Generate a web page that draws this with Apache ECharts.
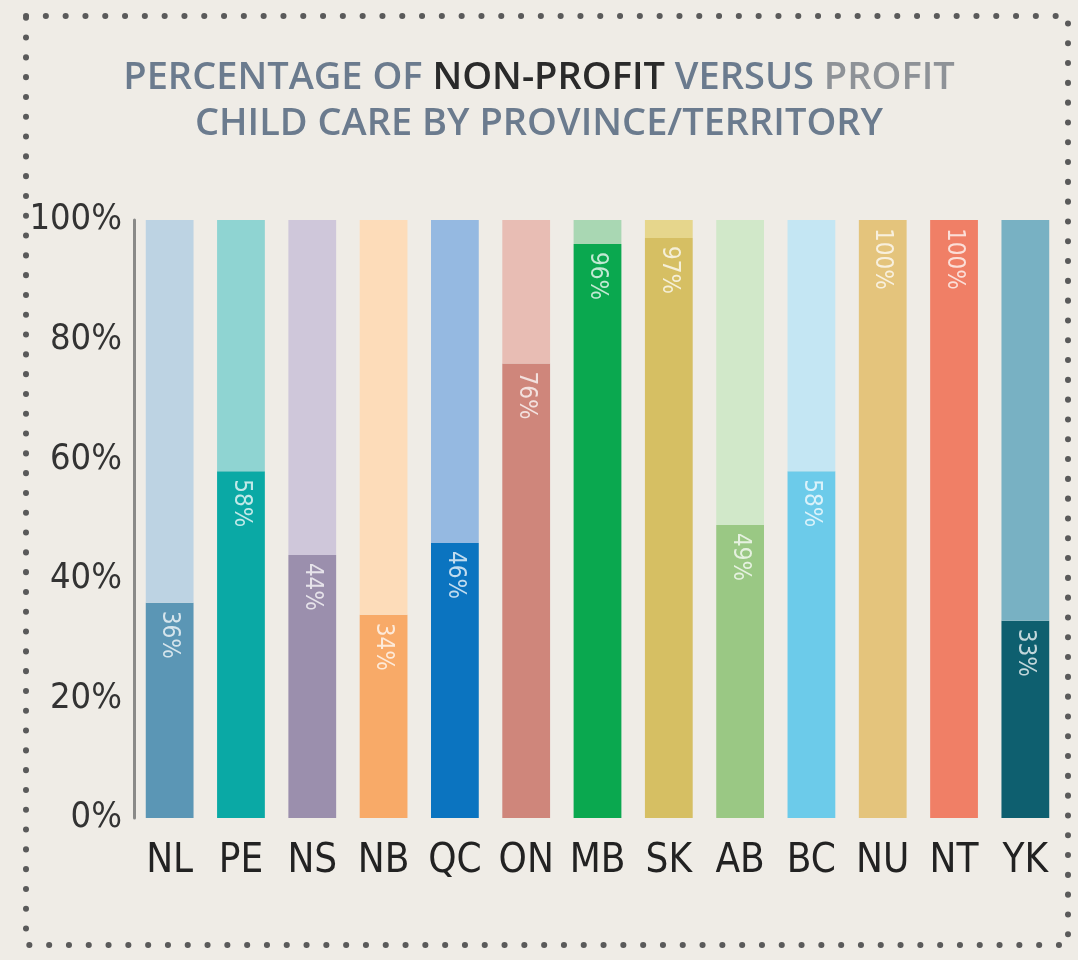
<!DOCTYPE html>
<html>
<head>
<meta charset="utf-8">
<script src="https://cdn.jsdelivr.net/npm/echarts@6/dist/echarts.min.js"></script>
<style>
  html, body { margin: 0; padding: 0; background: #efece6; }
  #chart { width: 1078px; height: 960px; }
</style>
</head>
<body>
<div id="chart"></div>
<script>
const provinces = ['NL', 'PE', 'NS', 'NB', 'QC', 'ON', 'MB', 'SK', 'AB', 'BC', 'NU', 'NT', 'YK']
const nonProfit = [36, 58, 44, 34, 46, 76, 96, 97, 49, 58, 100, 100, 33]
const profit = [64, 42, 56, 66, 54, 24, 4, 3, 51, 42, 0, 0, 67]
const yTicks = [0, 20, 40, 60, 80, 100]

const darkColors = ['#5b96b5', '#0aa9a5', '#9b8fad', '#f8aa68', '#0b74c0', '#cf867b',
  '#0aa84f', '#d6bf63', '#9ac884', '#6ccbea', '#e4c47c', '#f07f66', '#0e5f6f']
const lightColors = ['#bdd3e3', '#8fd4d2', '#cfc7da', '#fddcb9', '#95b9e1', '#e8bdb4',
  '#a9d7b3', '#e6d68c', '#d1e8c9', '#c4e6f3', '#ead190', '#f39a84', '#78b1c3']

const narrow = '"DejaVu Sans Condensed", sans-serif'

const chart = echarts.init(document.getElementById('chart'))

const option = {
  backgroundColor: '#efece6',
  title: {
    left: 'center',
    top: 50,
    text: '{a|PERCENTAGE OF }{b|NON-PROFIT}{a| VERSUS }{c|PROFIT}\n{a|CHILD CARE BY PROVINCE/TERRITORY}',
    textStyle: {
      rich: {
        a: { fontFamily: 'Open Sans', fontSize: 38, fontWeight: 600, color: '#6b7b8e', lineHeight: 46 },
        b: { fontFamily: 'Open Sans', fontSize: 38, fontWeight: 600, color: '#2a2a2a', lineHeight: 46 },
        c: { fontFamily: 'Open Sans', fontSize: 38, fontWeight: 600, color: '#8e9297', lineHeight: 46 }
      }
    }
  },
  graphic: [{
    type: 'rect',
    shape: { x: 26, y: 16, width: 1042, height: 929 },
    style: { fill: 'none', stroke: '#5a5a5a', lineWidth: 6, lineDash: [0.1, 19.7], lineCap: 'round' },
    silent: true
  }],
  grid: { left: 134, right: 17, top: 220, bottom: 142 },
  xAxis: {
    type: 'category',
    data: provinces,
    axisLine: { show: false },
    axisTick: { show: false },
    axisLabel: {
      interval: 0,
      margin: 24,
      fontFamily: narrow,
      fontSize: 40,
      color: '#222'
    }
  },
  yAxis: {
    type: 'value',
    min: 0,
    max: 100,
    interval: 20,
    axisLine: { show: true, lineStyle: { color: '#8a8a88', width: 3 } },
    axisTick: { show: false },
    splitLine: { show: false },
    axisLabel: {
      margin: 12,
      fontFamily: narrow,
      fontSize: 36,
      color: '#333',
      formatter: v => yTicks.includes(v) ? v + '%' : ''
    }
  },
  series: [
    {
      name: 'Non-profit',
      type: 'bar',
      stack: 'total',
      barWidth: '67%',
      data: nonProfit.map((v, i) => ({ value: v, itemStyle: { color: darkColors[i] } })),
      label: {
        show: true,
        position: 'insideTop',
        distance: 8,
        rotate: -90,
        align: 'left',
        verticalAlign: 'middle',
        formatter: '{c}%',
        fontFamily: narrow,
        fontSize: 24,
        color: 'rgba(255,255,255,0.75)'
      }
    },
    {
      name: 'Profit',
      type: 'bar',
      stack: 'total',
      barWidth: '67%',
      data: profit.map((v, i) => ({ value: v, itemStyle: { color: lightColors[i] } }))
    }
  ]
}

chart.setOption(option)
</script>
</body>
</html>
